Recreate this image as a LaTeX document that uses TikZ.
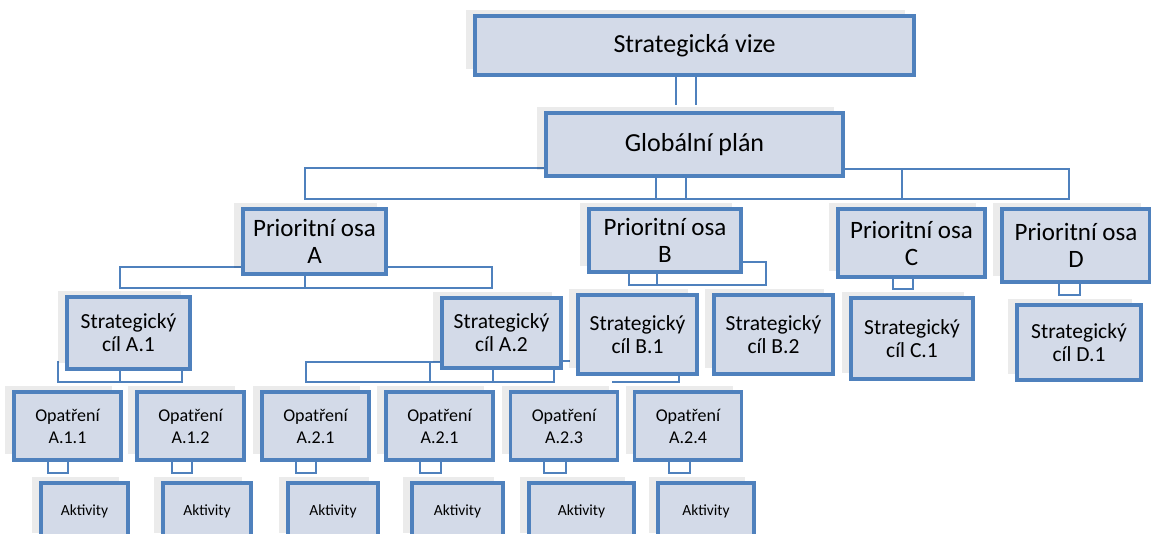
\documentclass[tikz,border=0pt]{standalone}
\usepackage{fontspec}
\setmainfont{Carlito}
\usetikzlibrary{shadows,backgrounds,calc}
\definecolor{bordercol}{RGB}{79,129,189}
\definecolor{boxfill}{RGB}{211,218,232}
\tikzset{
  box/.style={draw=bordercol, line width=3.2pt, fill=boxfill, align=center, inner sep=0pt,
    drop shadow={shadow xshift=-9pt, shadow yshift=6pt, fill=black, opacity=0.08}},
  conn/.style={draw=bordercol, line width=2.9pt},
  topbox/.style={box, font=\fontsize{26}{31}\selectfont},
  prio/.style={box, font=\fontsize{25}{27}\selectfont},
  cil/.style={box, font=\fontsize{21.5}{23}\selectfont},
  opat/.style={box, font=\fontsize{18}{22}\selectfont, minimum width=107pt, minimum height=68pt},
  akt/.style={box, font=\fontsize{15.5}{18}\selectfont, minimum height=56pt},
}
\begin{document}
\begin{tikzpicture}[x=1pt,y=-1pt]
\useasboundingbox (0,0) rectangle (1151,533);

% level 0/1
\node[topbox, minimum width=439pt, minimum height=59pt] (sv) at (694.5,45.5) {Strategická vize};
\node[topbox, minimum width=297pt, minimum height=63pt] (gp) at (694.5,144.5) {Globální plán};

% priority axes
\node[prio, minimum width=143pt, minimum height=65pt] (pA) at (314.5,241.5) {Prioritní osa\\A};
\node[prio, minimum width=152pt, minimum height=63pt] (pB) at (665,240.5) {Prioritní osa\\B};
\node[prio, minimum width=147pt, minimum height=68pt] (pC) at (911.5,243) {Prioritní osa\\C};
\node[prio, minimum width=148pt, minimum height=73pt] (pD) at (1076,245.5) {Prioritní osa\\D};

% strategic goals
\node[cil, minimum width=123pt, minimum height=72pt] (sA1) at (128.5,333) {Strategický\\cíl A.1};
\node[cil, minimum width=119pt, minimum height=70pt] (sA2) at (501.5,333) {Strategický\\cíl A.2};
\node[cil, minimum width=119pt, minimum height=79pt] (sB1) at (637.5,334.5) {Strategický\\cíl B.1};
\node[cil, minimum width=119pt, minimum height=79pt] (sB2) at (773.5,334.5) {Strategický\\cíl B.2};
\node[cil, minimum width=122pt, minimum height=81pt] (sC1) at (912,338.5) {Strategický\\cíl C.1};
\node[cil, minimum width=124pt, minimum height=75pt] (sD1) at (1079,342.5) {Strategický\\cíl D.1};

% measures
\node[opat] (o1) at (67.5,426) {Opatření\\A.1.1};
\node[opat] (o2) at (190.5,426) {Opatření\\A.1.2};
\node[opat] (o3) at (315.5,426) {Opatření\\A.2.1};
\node[opat] (o4) at (439.5,426) {Opatření\\A.2.1};
\node[opat] (o5) at (564,426) {Opatření\\A.2.3};
\node[opat] (o6) at (688,426) {Opatření\\A.2.4};

% activities
\node[akt, minimum width=87pt] (a1) at (84.5,511) {Aktivity};
\node[akt, minimum width=88pt] (a2) at (207,511) {Aktivity};
\node[akt, minimum width=90pt] (a3) at (333,511) {Aktivity};
\node[akt, minimum width=91pt] (a4) at (457.5,511) {Aktivity};
\node[akt, minimum width=105pt] (a5) at (581.5,511) {Aktivity};
\node[akt, minimum width=96pt] (a6) at (706,511) {Aktivity};

\begin{scope}[on background layer]
\fill[white] (0,0) rectangle (1151,533);
% vize -> plan
\draw[conn] (sv.south -| 676,0) -- (676,105);
\draw[conn] (sv.south -| 696,0) -- (696,105);
% plan -> axes
\draw[conn] (gp.west |- 0,168) -- (305,168) -- (305,199) -- (1069,199) -- (1069,169) -- (gp.east |- 0,169);
\draw[conn] (902,169) -- (902,199);
\draw[conn] (gp.south -| 656,0) -- (656,199);
\draw[conn] (gp.south -| 686,0) -- (686,199);
% axis A -> goals
\draw[conn] (pA.west |- 0,267) -- (120,267) -- (120,288) -- (492,288) -- (492,267) -- (pA.east |- 0,267);
\draw[conn] (pA.south -| 305,0) -- (305,288);
% axis B -> goals
\draw[conn] (pB.south -| 629,0) -- (629,285) -- (766,285) -- (766,262) -- (pB.east |- 0,262);
\draw[conn] (pB.south -| 657,0) -- (657,285);
% axis C, D -> goals
\draw[conn] (pC.south -| 893,0) -- (893,289) -- (913,289) -- (pC.south -| 913,0);
\draw[conn] (pD.south -| 1059,0) -- (1059,295) -- (1080,295) -- (pD.south -| 1080,0);
% goal A.1 -> measures
\draw[conn] (58,361) -- (58,382) -- (182,382) -- (182,361);
\draw[conn] (sA1.south -| 120,0) -- (120,382);
% goal A.2 -> measures
\draw[conn] (sA2.west |- 0,362) -- (306,362) -- (306,382) -- (554,382) -- (sA2.south -| 554,0);
\draw[conn] (430,362) -- (430,382);
\draw[conn] (sA2.south -| 493,0) -- (493,382);
\draw[conn] (sA2.east |- 0,361) -- (570,361);
% goal B.1
\draw[conn] (sB1.south -| 679,0) -- (679,382) -- (612,382);
% measures -> activities
\foreach \n/\l/\r in {o1/48/68, o2/172/192, o3/296/316, o4/420/441, o5/544/566, o6/669/690}{
  \draw[conn] (\n.south -| \l,0) -- (\l,473) -- (\r,473) -- (\n.south -| \r,0);
}
\end{scope}
\end{tikzpicture}
\end{document}
